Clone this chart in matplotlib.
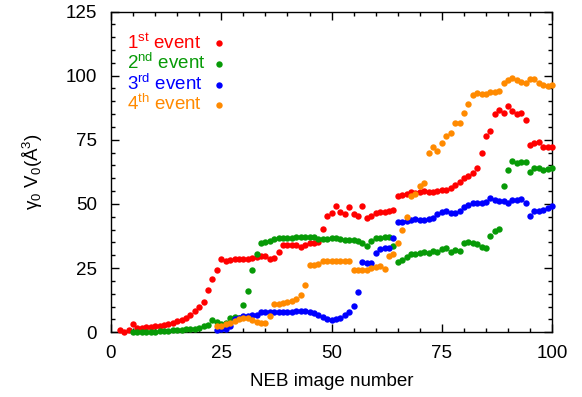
import numpy as np
import matplotlib
matplotlib.use("Agg")
import matplotlib.pyplot as plt

plt.rcParams['font.family'] = ['Liberation Sans', 'DejaVu Sans']
plt.rcParams['mathtext.fontset'] = 'custom'
plt.rcParams['mathtext.rm'] = 'Liberation Sans'
plt.rcParams['mathtext.it'] = 'Liberation Sans'

# NEB image numbers where each event starts (all run to image 100)
x_first = np.arange(2, 101)
x_second = np.arange(5, 101)
x_third = np.arange(24, 101)
x_fourth = np.arange(24, 101)

first_event = [
    0.8, 0.0, 0.9, 3.1, 1.7, 1.8, 1.9, 2.1, 2.3, 2.5,
    2.7, 3.1, 3.7, 4.3, 4.9, 5.7, 6.7, 8.2, 9.7, 11.9,
    16.6, 20.7, 24.3, 28.4, 27.7, 28.2, 28.4, 28.4, 28.4, 28.6,
    29.1, 29.2, 29.9, 29.9, 28.6, 29.1, 31.2, 34.0, 34.0, 34.0,
    34.0, 33.4, 34.0, 34.7, 34.7, 35.3, 40.3, 45.3, 46.4, 49.2,
    47.0, 46.0, 48.9, 46.0, 45.4, 49.3, 44.5, 45.4, 46.6, 47.0,
    47.0, 47.4, 47.7, 53.0, 53.5, 54.0, 54.6, 54.3, 54.8, 54.9,
    54.6, 54.8, 54.9, 55.3, 55.5, 56.4, 57.3, 58.5, 60.3, 60.8,
    62.0, 64.0, 69.7, 76.6, 78.6, 84.9, 86.5, 85.5, 88.2, 86.2,
    84.9, 85.3, 82.6, 73.0, 73.9, 74.0, 72.1, 72.3, 72.3,
]
second_event = [
    0.1, 0.1, 0.1, 0.1, 0.1, 0.2, 0.4, 0.5, 0.6, 0.8,
    0.9, 1.0, 1.2, 1.3, 1.4, 1.7, 2.3, 3.0, 4.9, 3.9,
    3.3, 3.5, 5.6, 5.8, 5.4, 10.5, 16.2, 24.1, 30.6, 34.6,
    35.1, 35.5, 36.3, 36.8, 36.8, 36.8, 36.9, 37.0, 37.1, 37.1,
    37.3, 37.0, 36.5, 36.5, 36.5, 36.6, 36.7, 36.2, 36.1, 36.1,
    35.8, 35.4, 34.6, 33.7, 35.4, 36.6, 36.7, 37.1, 37.0, 33.5,
    27.3, 28.2, 29.2, 30.4, 30.5, 31.0, 31.2, 31.0, 31.6, 31.3,
    32.5, 32.9, 31.2, 32.1, 31.6, 34.7, 35.3, 34.9, 34.3, 33.1,
    32.7, 37.6, 39.5, 40.4, 57.1, 63.1, 66.9, 65.9, 66.2, 66.2,
    62.4, 63.9, 64.0, 63.2, 63.8, 64.2,
]
third_event = [
    0.9, 1.2, 1.4, 2.3, 5.0, 5.5, 6.2, 6.5, 6.7, 6.9,
    7.8, 7.9, 8.1, 7.9, 7.9, 7.9, 7.9, 8.0, 8.3, 8.4,
    8.2, 7.8, 7.5, 6.7, 6.1, 5.3, 4.9, 5.2, 5.7, 6.9,
    8.0, 10.2, 15.7, 27.5, 27.0, 27.0, 31.0, 32.4, 32.8, 33.0,
    36.9, 42.9, 43.1, 43.4, 43.6, 44.0, 43.9, 43.8, 44.2, 44.7,
    46.1, 46.8, 47.3, 46.5, 46.6, 47.3, 48.9, 49.7, 50.4, 50.4,
    50.3, 50.8, 52.3, 51.4, 51.0, 51.0, 50.4, 51.7, 51.7, 51.9,
    50.3, 45.4, 47.3, 47.4, 47.8, 48.3, 49.2,
]
fourth_event = [
    2.5, 2.6, 3.4, 3.8, 4.3, 5.2, 5.4, 5.5, 4.7, 3.9,
    3.6, 3.5, 6.5, 11.0, 11.1, 11.5, 11.7, 12.1, 13.0, 14.4,
    18.3, 26.1, 26.1, 26.5, 27.6, 27.6, 27.6, 27.6, 27.6, 27.6,
    27.6, 24.2, 24.4, 24.3, 24.2, 24.9, 25.3, 25.7, 24.8, 29.7,
    30.6, 34.7, 40.0, 44.8, 53.1, 53.9, 56.9, 58.2, 69.8, 72.3,
    70.8, 73.7, 76.5, 77.8, 81.7, 81.7, 85.3, 89.0, 92.6, 93.2,
    93.0, 92.7, 93.5, 93.5, 93.9, 97.0, 98.3, 99.0, 98.4, 97.7,
    97.3, 98.7, 98.7, 97.2, 96.3, 96.1, 96.5,
]

labels = [r'1$^{\rm st}$ event', r'2$^{\rm nd}$ event',
          r'3$^{\rm rd}$ event', r'4$^{\rm th}$ event']
colors = ['#ff0000', '#079a07', '#0000ff', '#ff8a00']
xs_all = [x_first, x_second, x_third, x_fourth]
ys_all = [first_event, second_event, third_event, fourth_event]

fig = plt.figure(figsize=(5.82, 3.97), dpi=100)
ax = fig.add_axes([0.1907, 0.163, 0.758, 0.808])

for i in range(4):
    ax.plot(xs_all[i], ys_all[i], 'o', color=colors[i], ms=4.6, mec='none',
            clip_on=False, zorder=3 + i)

# key drawn by hand: left-aligned text with the dot to its right
for i in range(4):
    ax.text(0.036, 0.885 - 0.0645 * i, labels[i], color=colors[i],
            fontsize=13.5, transform=ax.transAxes, ha='left', va='baseline')
    ax.plot([0.245], [0.901 - 0.0645 * i], 'o', color=colors[i], ms=4.6,
            mec='none', transform=ax.transAxes, clip_on=False)

ax.set_xlim(0, 100)
ax.set_ylim(0, 125)
ax.set_xticks([0, 25, 50, 75, 100])
ax.set_yticks([0, 25, 50, 75, 100, 125])
ax.set_xticks(np.arange(0, 101, 5), minor=True)
ax.set_yticks(np.arange(0, 126, 5), minor=True)
ax.tick_params(which='both', direction='in', top=True, right=True,
               labelsize=13.5, width=1)
ax.tick_params(axis='x', which='both', pad=9)
ax.tick_params(axis='y', which='both', pad=10)
ax.tick_params(which='major', length=6)
ax.tick_params(which='minor', length=3)
for sp in ax.spines.values():
    sp.set_linewidth(1)

ax.set_xlabel('NEB image number', fontsize=13.5, labelpad=8)
ax.set_ylabel(r'γ$_0$ V$_0$(Å$^3$)', fontsize=13.5, labelpad=15)

fig.savefig('out.png', dpi=100)
